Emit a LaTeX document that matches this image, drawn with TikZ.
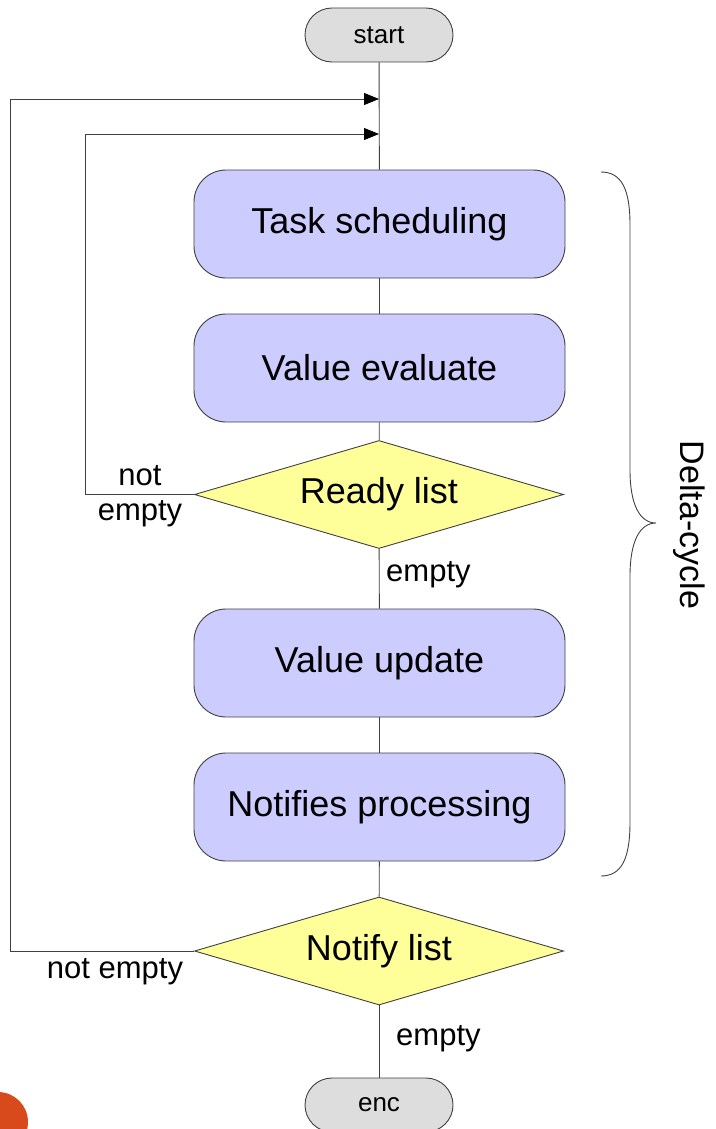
\documentclass[tikz,border=0pt]{standalone}
\usepackage{fontspec}
\setmainfont{Liberation Sans}
\usetikzlibrary{shapes.geometric,arrows.meta}
\definecolor{boxfill}{HTML}{CCCCFF}
\definecolor{decfill}{HTML}{FFFF99}
\definecolor{termfill}{HTML}{DDDDDD}
\definecolor{edge}{HTML}{404040}
\definecolor{blob}{HTML}{D84A1B}
\tikzset{
  stepbox/.style={draw=edge, line width=0.9pt, fill=boxfill, rounded corners=32pt,
    minimum width=371pt, minimum height=108pt, inner sep=0pt, font=\fontsize{36}{40}\selectfont},
  decision/.style={draw=edge, line width=0.9pt, fill=decfill, diamond, aspect=3.43,
    minimum width=369pt, minimum height=108pt, inner sep=0pt, font=\fontsize{36}{40}\selectfont},
  terminal/.style={draw=edge, line width=0.9pt, fill=termfill, rounded corners=27pt,
    minimum width=148pt, minimum height=54pt, inner sep=0pt, font=\fontsize{26}{30}\selectfont},
  conn/.style={draw=edge, line width=0.9pt},
  loopback/.style={draw=edge, line width=0.9pt, -{Triangle[length=15pt,width=12pt,color=black]}},
  lbl/.style={font=\fontsize{31}{36}\selectfont, inner sep=0pt, text=black}
}
\begin{document}
\begin{tikzpicture}[x=1pt,y=-1pt]
\useasboundingbox (0,0) rectangle (715,1129);
\fill[blob] (-2,1122) circle (30);

\node[terminal] (start) at (379,35) {start};
\node[stepbox] (task) at (379.5,224) {Task scheduling};
\node[stepbox] (eval) at (379.5,368) {Value evaluate};
\node[decision] (ready) at (379,494.5) {Ready list};
\node[stepbox] (update) at (379.5,663) {Value update};
\node[stepbox] (notif) at (379.5,807) {Notifies processing};
\node[decision] (nlist) at (379,951) {Notify list};
\node[terminal] (end) at (379,1105) {enc};

\coordinate (j1) at (379,99);
\coordinate (j2) at (379,134);
\coordinate (c1) at (85,494.5);
\coordinate (c2) at (10,951);

\draw[conn] (start) -- (task);
\draw[conn] (task) -- (eval);
\draw[conn] (eval) -- (ready);
\draw[conn] (ready) -- (update);
\draw[conn] (update) -- (notif);
\draw[conn] (notif) -- (nlist);
\draw[conn] (nlist) -- (end);

\draw[loopback] (ready.west) -- (c1) |- (j2);
\draw[loopback] (nlist.west) -- (c2) |- (j1);

\node[lbl] (lnot1) at (140,476) {not};
\node[lbl] (lnot2) at (140,514) {empty};
\node[lbl, anchor=west] (lemp1) at (386,575) {empty};
\node[lbl] (lnot3) at (115,972) {not empty};
\node[lbl, anchor=west] (lemp2) at (396,1039) {empty};

% brace
\draw[edge, line width=0.9pt] (601,172)
  .. controls (622,172) and (630,190) .. (630,225)
  -- (630,470)
  .. controls (630,505) and (640,523) .. (656,523)
  .. controls (640,523) and (630,541) .. (630,576)
  -- (630,822)
  .. controls (630,858) and (622,876) .. (601,876);
\node[lbl, rotate=-90, font=\fontsize{34}{38}\selectfont] (delta) at (689,525) {Delta-cycle};
\end{tikzpicture}
\end{document}
